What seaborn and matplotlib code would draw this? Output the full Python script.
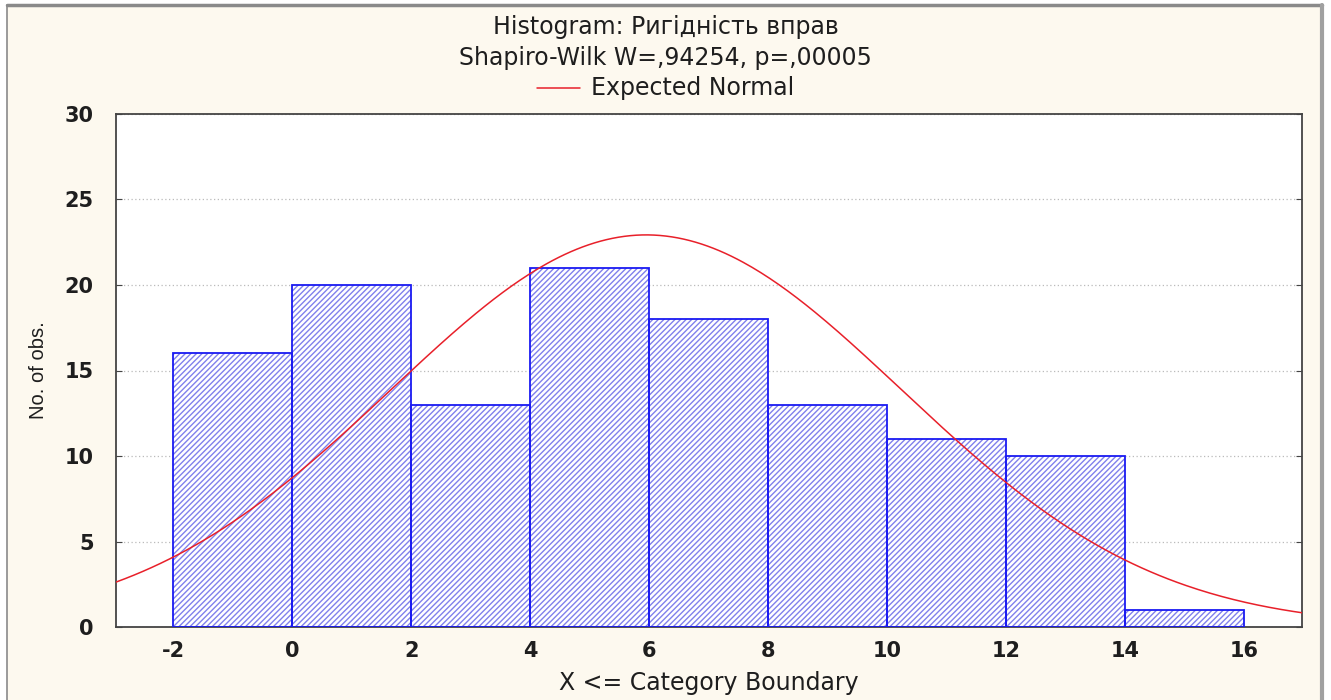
import numpy as np
import pandas as pd
import matplotlib
matplotlib.use("Agg")
import matplotlib.pyplot as plt
import seaborn as sns
from matplotlib.patches import Rectangle
from matplotlib.lines import Line2D

# Histogram data: category boundaries and counts per bin
bin_edges = [-2, 0, 2, 4, 6, 8, 10, 12, 14, 16]
counts = [16, 20, 13, 21, 18, 13, 11, 10, 1]

# Expected normal curve parameters
norm_mean = 5.95
norm_sd = 4.28

title_lines = ["Histogram: Ригідність вправ", "Shapiro-Wilk W=,94254, p=,00005"]
legend_label = "Expected Normal"
x_label = "X <= Category Boundary"
y_label = "No. of obs."
x_ticks = [-2, 0, 2, 4, 6, 8, 10, 12, 14, 16]
y_ticks = [0, 5, 10, 15, 20, 25, 30]

sns.set_style("white")
plt.rcParams["font.family"] = ["DejaVu Sans"]
plt.rcParams["hatch.linewidth"] = 1.0

txt = "#1e1e1e"
bg = "#fdf9ef"
fig = plt.figure(figsize=(13.31, 7.0), dpi=100, facecolor="white")
# cream panel with grey frame
fig.patches.append(Rectangle((7 / 1331, 0), (1322 - 7) / 1331, 695 / 700,
                             transform=fig.transFigure, facecolor=bg,
                             edgecolor="none", zorder=-10))
fig.add_artist(Line2D([7 / 1331, 1322 / 1331], [695 / 700, 695 / 700],
                      transform=fig.transFigure, color="#8a8a8a", lw=2.5))
fig.add_artist(Line2D([7 / 1331, 7 / 1331], [0, 695 / 700],
                      transform=fig.transFigure, color="#8a8a8a", lw=1.2))
fig.add_artist(Line2D([1322 / 1331, 1322 / 1331], [0, 695 / 700],
                      transform=fig.transFigure, color="#a0a0a0", lw=3))

ax = fig.add_axes([116 / 1331, 73 / 700, (1302 - 116) / 1331, (627 - 114) / 700])
ax.set_facecolor("white")

centers = [(a + b) / 2 for a, b in zip(bin_edges[:-1], bin_edges[1:])]
df = pd.DataFrame({"x": centers, "n": counts})

# hatched fill layer
sns.histplot(data=df, x="x", weights="n", bins=bin_edges, ax=ax,
             stat="count", fill=True, color="white", alpha=1.0,
             linewidth=0, zorder=2)
for p in ax.patches:
    p.set_hatch("//////")
    p.set_facecolor("white")
    p.set_edgecolor("#8080ec")
    p.set_linewidth(0)
n_fill = len(ax.patches)

# solid outline layer
sns.histplot(data=df, x="x", weights="n", bins=bin_edges, ax=ax,
             stat="count", fill=False, element="bars", color="#1a1af2",
             linewidth=1.3, zorder=3)
for p in ax.patches[n_fill:]:
    p.set_edgecolor("#1a1af2")
    p.set_facecolor("none")

# expected normal curve scaled to counts
n_total = sum(counts)
bw = bin_edges[1] - bin_edges[0]
xs = np.linspace(-2.96, 16.97, 400)
ys = n_total * bw * np.exp(-0.5 * ((xs - norm_mean) / norm_sd) ** 2) / (norm_sd * np.sqrt(2 * np.pi))
sns.lineplot(x=xs, y=ys, ax=ax, color="#e8202a", lw=1.1, zorder=4)

ax.set_xlim(-2.96, 16.97)
ax.set_ylim(0, 30)
ax.set_xticks(x_ticks)
ax.set_yticks(y_ticks)
ax.set_xticklabels([str(t) for t in x_ticks], fontsize=15, fontweight="bold", color=txt)
ax.set_yticklabels([str(t) for t in y_ticks], fontsize=15, fontweight="bold", color=txt)
ax.tick_params(axis="both", direction="in", length=4, color="#444444",
               top=False, right=True, left=True, bottom=False)
ax.tick_params(axis="x", pad=10)
ax.tick_params(axis="y", pad=16)
ax.yaxis.grid(True, linestyle=(0, (1, 2)), color="#bbbbbb", lw=0.9, zorder=0)
ax.set_axisbelow(True)
for s in ax.spines.values():
    s.set_color("#444444")
    s.set_linewidth(1.3)

ax.set_xlabel(x_label, fontsize=17, color=txt, labelpad=7)
ax.set_ylabel(y_label, fontsize=14.5, color=txt, labelpad=12,
              family=["Liberation Sans", "DejaVu Sans"])

fig.text(0.5, 1 - 27 / 700, title_lines[0], ha="center", va="center",
         fontsize=17, color=txt)
fig.text(0.5, 1 - 58 / 700, title_lines[1], ha="center", va="center",
         fontsize=17, color=txt)
leg_line_y = 1 - 88 / 700
fig.add_artist(Line2D([537 / 1331, 580 / 1331], [leg_line_y, leg_line_y],
                      transform=fig.transFigure, color="#e8202a", lw=1.1))
fig.text(591 / 1331, leg_line_y, legend_label, ha="left", va="center",
         fontsize=17, color=txt)

fig.savefig("out.png", dpi=100, facecolor="white")
